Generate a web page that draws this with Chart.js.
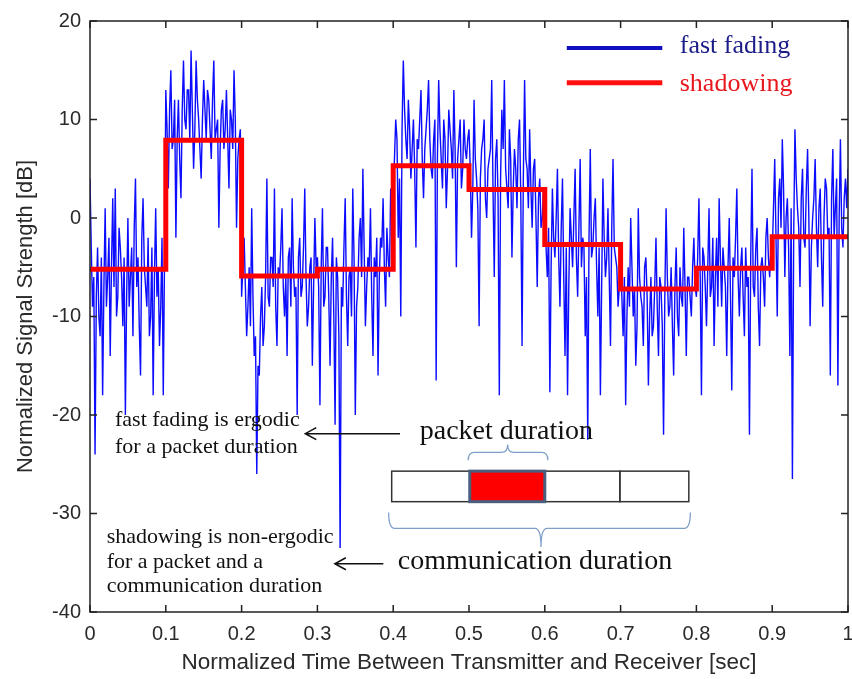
<!DOCTYPE html>
<html>
<head>
<meta charset="utf-8">
<script src="https://cdn.jsdelivr.net/npm/chart.js@4.4.0/dist/chart.umd.min.js"></script>
<style>
body { margin: 0; background: #fff; }
#wrap { width: 852px; height: 679px; }
</style>
</head>
<body>
<div id="wrap"><canvas id="mycanvas"></canvas></div>
<script>
// sample spacing of the fast fading trace (60 samples per 0.1 s)
var dt = 0.1 / 60;

// fast fading samples [dB], one row per 0.1 s
var fastFading = [
  4,-3, -9,-6, -24,-8, -3,-10, -12,-4, -18,-7, 1,-9, -6,-2, -14,-5, 2,-7, 3,-10, -8,-1, -3,-6, -11,-4, -20,-8, 0,-9, -6,-3, -12,-1, 4,-7, -4,-11, -16,-2, 2,-5, -7,-9, -2,-12, -10,-3, -18,-6, 1,-8, -5,-13, -9,-2, -18,-4,
  13,9, 3,11, 15,7, 8,12, -2,8, 12,6, 2,11, 16,10, 9,13, 13,8, 17,11, 5,9, 16,12, 10,7, 4,10, 14,11, 8,13, 12,9, 6,12, 16,8, 9,10, -1,7, 11,12, 7,9, 13,8, 3,11, 10,7, 15,10, -1,6, 8,9,
  -8,-5, -2,-7, -12,-9, -5,-11, 1,-8, -14,-12, -26,-15, -16,-10, -7,-13, -11,-6, 4,-8, -9,-4, -4,-7, 3,-9, -13,-5, -6,-3, 1,-7, -10,-6, -14,-4, -3,-9, 2,-5, -8,-7, -20,-4, -2,-8, -7,-3, 3,-6, -11,-9, -5,-4, -15,-7, 0,-5,
  -4,-7, -19,-5, 1,-9, -8,-3, -3,-8, -15,-6, -2,-10, -21,-4, -6,-12, -33.5,-7, -9,-3, 2,-8, -13,-6, -5,-10, 3,-4, -20,-9, -7,-2, 0,-6, 5,-3, -11,-7, -4,-5, 1,-8, -14,-4, -6,-2, -16,-6, -2,-3, 2,-5, -9,-1, -4,-6, 3,1,
  3,6, 10,8, -2,4, -10,9, 16,11, 8,6, 12,9, 4,7, 10,5, -3,8, 7,10, 13,6, 2,7, 9,11, 14,8, 5,4, 8,10, -16.5,6, 14,9, 6,3, 10,8, 1,5, 11,9, 7,4, 13,7, -5,6, 8,10, 3,5, 10,7, 6,8,
  9,5, -2,3, 12,6, 4,1, -11,4, 7,8, 10,2, 0,5, 6,7, 14,3, -6,6, 8,2, -18,4, 11,7, 14,5, 3,1, 9,6, -4,3, 7,5, 1,8, 10,2, -13,4, 14,6, 5,1, 9,3, -1,5, 6,0, -7,2, 4,-1, 0,3,
  2,-3, -6,-1, -17.7,-5, 3,-2, -4,0, 5,-4, -9,-1, 4,-6, -14,-3, -18,-7, 1,-2, -5,0, 5,-4, -8,-1, 6,-5, -2,-3, -12,-6, -22.5,-2, 7,-4, -3,0, 2,-5, -10,-3, -18,-7, 4,-2, -6,-4, 1,-6, -13,-1, 6,-3, -4,-5, -9,-7,
  -3,-8, -12,-6, -19,-10, -5,-9, 0,-5, -10,-7, -15,-11, 1,-6, -8,-9, -13,-5, -4,-8, -17,-10, -6,-12, -11,-7, -2,-9, -14,-6, -7,-11, -22,-8, 1,-6, -10,-9, -5,-11, -16,-7, -3,-10, -12,-5, -8,-9, -1,-7, -14,-6, -6,-8, -10,-5, -2,-7,
  -8,-4, 2,-6, -18,-3, -4,-7, -11,-5, 1,-8, -7,-2, -13,-6, -2,-9, 2,-4, -9,-3, -5,-7, -14,-5, 0,-8, -17.5,-4, -6,-2, 3,-6, -10,-5, -3,-8, -12,-3, -7,-6, -22,-4, 5,-7, -8,-3, -1,-9, -13,-5, -4,-6, -9,-2, 0,-4, -6,-3,
  -4,1, 6,-2, -10,2, 4,-1, 8,3, -6,0, 2,-3, -14,1, -26.5,-2, 9,4, 1,-1, -7,2, 5,-2, -3,3, 7,0, -11,-3, 0,2, 6,-1, -5,1, 3,-4, -9,0, 4,3, -2,-1, -16,2, 7,-2, 1,4, -17,0, 8,-1, -3,2, 4,1,
  5
];

// shadowing levels [dB], one per 0.1 s block (last value closes the line at t = 1)
var shadowTimes  = [0, 0.1, 0.2, 0.3, 0.4, 0.5, 0.6, 0.7, 0.8, 0.9, 1.0];
var shadowLevels = [-5.2, 7.9, -5.9, -5.2, 5.3, 2.9, -2.7, -7.2, -5.1, -1.9, -1.9];

var xTicks = [0, 0.1, 0.2, 0.3, 0.4, 0.5, 0.6, 0.7, 0.8, 0.9, 1];
var yTicks = [-40, -30, -20, -10, 0, 10, 20];

var ffPoints = [];
for (var i in fastFading) {
  ffPoints.push({ x: i * dt, y: fastFading[i] });
}
var shPoints = [];
for (var j in shadowTimes) {
  shPoints.push({ x: shadowTimes[j], y: shadowLevels[j] });
}

var serif = '"Liberation Serif", "Times New Roman", serif';
var sans = '"Liberation Sans", Arial, sans-serif';

function arrowLeft(ctx, x1, x2, y) {
  ctx.beginPath();
  ctx.moveTo(x1, y); ctx.lineTo(x2, y);
  ctx.moveTo(x2 + 11, y - 6); ctx.lineTo(x2, y); ctx.lineTo(x2 + 11, y + 6);
  ctx.stroke();
}

// curly brace: ends at y0, straight run at y1, tip at y2
function brace(ctx, xl, xr, xm, y0, y1, y2) {
  var r = 6;
  ctx.beginPath();
  ctx.moveTo(xl, y0);
  ctx.quadraticCurveTo(xl, y1, xl + r, y1);
  ctx.lineTo(xm - r, y1);
  ctx.quadraticCurveTo(xm, y1, xm, y2);
  ctx.quadraticCurveTo(xm, y1, xm + r, y1);
  ctx.lineTo(xr - r, y1);
  ctx.quadraticCurveTo(xr, y1, xr, y0);
  ctx.stroke();
}

var decorations = {
  id: 'decorations',
  afterDraw: function(chart) {
    var ctx = chart.ctx, a = chart.chartArea;
    var xs = chart.scales.x, ys = chart.scales.y;
    var X = function(v) { return xs.getPixelForValue(v); };
    var Y = function(v) { return ys.getPixelForValue(v); };
    ctx.save();

    // axes box with inward ticks
    ctx.strokeStyle = '#222';
    ctx.lineWidth = 1.5;
    ctx.strokeRect(a.left, a.top, a.right - a.left, a.bottom - a.top);
    ctx.beginPath();
    xTicks.forEach(function(v) {
      var px = X(v);
      ctx.moveTo(px, a.bottom); ctx.lineTo(px, a.bottom - 7);
      ctx.moveTo(px, a.top); ctx.lineTo(px, a.top + 7);
    });
    yTicks.forEach(function(v) {
      var py = Y(v);
      ctx.moveTo(a.left, py); ctx.lineTo(a.left + 7, py);
      ctx.moveTo(a.right, py); ctx.lineTo(a.right - 7, py);
    });
    ctx.stroke();

    // legend
    ctx.lineWidth = 4;
    ctx.strokeStyle = '#1010c0';
    ctx.beginPath(); ctx.moveTo(X(0.629), Y(17.25)); ctx.lineTo(X(0.755), Y(17.25)); ctx.stroke();
    ctx.lineWidth = 5;
    ctx.strokeStyle = '#ff1010';
    ctx.beginPath(); ctx.moveTo(X(0.629), Y(13.74)); ctx.lineTo(X(0.755), Y(13.74)); ctx.stroke();
    ctx.font = '26px ' + serif;
    ctx.textBaseline = 'middle';
    ctx.textAlign = 'left';
    ctx.fillStyle = '#1c1c88';
    ctx.fillText('fast fading', X(0.778), Y(17.4));
    ctx.fillStyle = '#e8181e';
    ctx.fillText('shadowing', X(0.778), Y(13.6));

    // left notes
    ctx.fillStyle = '#111';
    ctx.font = '22px ' + serif;
    ctx.fillText('fast fading is ergodic', X(0.033), Y(-20.5));
    ctx.fillText('for a packet duration', X(0.033), Y(-23.3));
    ctx.fillText('shadowing is non-ergodic', X(0.022), Y(-32.4));
    ctx.fillText('for a packet and a', X(0.022), Y(-34.9));
    ctx.fillText('communication duration', X(0.022), Y(-37.4));

    ctx.font = '28px ' + serif;
    ctx.fillText('packet duration', X(0.435), Y(-21.7));
    ctx.fillText('communication duration', X(0.406), Y(-34.9));

    ctx.strokeStyle = '#111';
    ctx.lineWidth = 1.5;
    arrowLeft(ctx, X(0.409), X(0.284), Y(-21.9));
    arrowLeft(ctx, X(0.387), X(0.323), Y(-35.1));

    // packet blocks
    var cells = [0.398, 0.501, 0.600, 0.699, 0.790];
    var top = Y(-25.7), bot = Y(-28.8);
    ctx.fillStyle = '#fff';
    ctx.fillRect(X(cells[0]), top, X(cells[4]) - X(cells[0]), bot - top);
    ctx.strokeStyle = '#333';
    ctx.lineWidth = 1.5;
    for (var k = 0; k < 4; k++) {
      ctx.strokeRect(X(cells[k]), top, X(cells[k + 1]) - X(cells[k]), bot - top);
    }
    ctx.fillStyle = '#ff0000';
    ctx.fillRect(X(cells[1]), top, X(cells[2]) - X(cells[1]), bot - top);
    ctx.strokeStyle = '#4a5f7e';
    ctx.lineWidth = 3;
    ctx.strokeRect(X(cells[1]), top, X(cells[2]) - X(cells[1]), bot - top);

    // braces
    ctx.strokeStyle = '#7f9fc8';
    ctx.lineWidth = 1.3;
    brace(ctx, X(0.499), X(0.604), X(0.551), Y(-24.6), Y(-23.8), Y(-23.0));
    brace(ctx, X(0.394), X(0.792), X(0.595), Y(-29.9), Y(-31.5), Y(-33.4));

    ctx.restore();
  }
};

var ctx = document.getElementById('mycanvas');

var chart = new Chart(ctx, {
  type: 'scatter',
  data: {
    datasets: [
      {
        label: 'shadowing',
        data: shPoints,
        showLine: true,
        stepped: 'before',
        borderColor: '#ff0000',
        borderWidth: 5,
        pointRadius: 0,
        fill: false
      },
      {
        label: 'fast fading',
        data: ffPoints,
        showLine: true,
        borderColor: '#0c0cff',
        borderWidth: 1.4,
        pointRadius: 0,
        tension: 0,
        fill: false
      }
    ]
  },
  options: {
    responsive: true,
    maintainAspectRatio: false,
    animation: false,
    devicePixelRatio: 1,
    layout: { padding: { top: 15, right: 4, left: 0, bottom: 0 } },
    scales: {
      x: {
        type: 'linear',
        min: 0,
        max: 1,
        grid: { display: false, drawTicks: false },
        border: { display: false },
        afterBuildTicks: function(scale) {
          scale.ticks = xTicks.map(function(v) { return { value: v }; });
        },
        afterFit: function(scale) {
          scale.height = 67;
          scale.paddingLeft = 0;
          scale.paddingRight = 0;
        },
        ticks: {
          autoSkip: false,
          maxRotation: 0,
          padding: 10,
          color: '#2a2a2a',
          font: { family: sans, size: 20 },
          callback: function(v) { return String(Number(v.toFixed(1))); }
        },
        title: {
          display: true,
          text: 'Normalized Time Between Transmitter and Receiver [sec]',
          color: '#2a2a2a',
          font: { family: sans, size: 22.5 },
          padding: { top: 0, bottom: 3 }
        }
      },
      y: {
        type: 'linear',
        min: -40,
        max: 20,
        grid: { display: false, drawTicks: false },
        border: { display: false },
        afterBuildTicks: function(scale) {
          scale.ticks = yTicks.map(function(v) { return { value: v }; });
        },
        afterFit: function(scale) {
          scale.width = 90;
        },
        ticks: {
          padding: 9,
          color: '#2a2a2a',
          font: { family: sans, size: 20 }
        },
        title: {
          display: true,
          text: 'Normalized Signal Strength [dB]',
          color: '#2a2a2a',
          font: { family: sans, size: 22 },
          padding: { top: 13, bottom: 0 }
        }
      }
    },
    plugins: {
      legend: { display: false },
      tooltip: { enabled: false }
    }
  },
  plugins: [decorations]
});
</script>
</body>
</html>
